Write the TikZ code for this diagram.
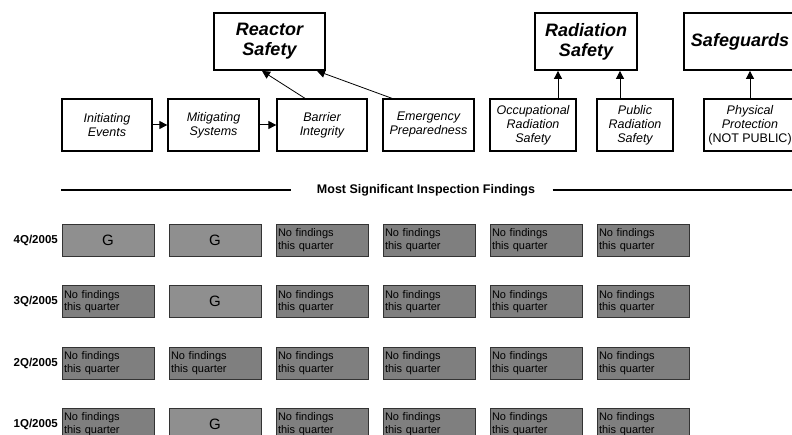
\documentclass[tikz,border=0pt]{standalone}
\usepackage{fontspec}
\setmainfont{Liberation Sans}
\usetikzlibrary{arrows.meta}
\definecolor{greenfind}{HTML}{8F8F8F}
\definecolor{nofind}{HTML}{7F7F7F}
\def\gmark{g}
\begin{document}
\begin{tikzpicture}[x=1pt, y=-1pt, >={Triangle[length=8pt,width=8pt]},
corner/.style = {rectangle, draw=black, line width=1.8pt, align=center, inner sep=0pt,
  minimum height=57pt, font=\fontsize{18}{20}\selectfont\bfseries\itshape},
block/.style = {rectangle, draw=black, line width=1.3pt, align=center, inner sep=0pt,
  minimum height=52pt, font=\fontsize{12.5}{14}\selectfont\itshape},
finding/.style = {rectangle, draw=black!80, line width=0.8pt, inner sep=2pt,
  minimum width=92pt, minimum height=32pt},
gbox/.style = {finding, fill=greenfind, font=\fontsize{15}{16}\selectfont},
nbox/.style = {finding, fill=nofind, align=left, text width=88pt, font=\fontsize{11}{12.5}\selectfont},
quarter/.style = {anchor=east, inner sep=0pt, font=\fontsize{11.5}{12}\selectfont\bfseries}]
\useasboundingbox (0,0) rectangle (792,435);
\node[corner, minimum width=111pt] at (269.5,41.5) (rs) {Reactor\\Safety};
\node[corner, minimum width=102pt] at (586,41.5) (rad) {Radiation\\Safety};
\node[corner, minimum width=112pt] at (740,41.5) (sg) {Safeguards};
\node[block, minimum width=90pt] at (107,125) (ie) {Initiating\\Events};
\node[block, minimum width=91pt] at (213.5,125) (ms) {Mitigating\\Systems};
\node[block, minimum width=90pt] at (322,125) (bi) {Barrier\\Integrity};
\node[block, minimum width=91pt] at (428.5,125) (ep) {Emergency\\Preparedness};
\node[block, minimum width=86pt] at (533,125) (ors) {Occupational\\Radiation\\Safety};
\node[block, minimum width=76pt] at (635,125) (prs) {Public\\Radiation\\Safety};
\node[block, minimum width=92pt, font=\fontsize{12.5}{14}\selectfont] at (750,125) (pp) {\itshape Physical\\\itshape Protection\\(NOT PUBLIC)};
\draw [->, line width=1] (ie) to (ms);
\draw [->, line width=1] (ms) to (bi);
\draw [->, line width=0.8] ([xshift=-17pt]bi.north) to ([xshift=-7.5pt]rs.south);
\draw [->, line width=0.8] ([xshift=-36.5pt]ep.north) to ([xshift=47.5pt]rs.south);
\draw [->, line width=0.8] ([xshift=25pt]ors.north) to ([xshift=-28pt]rad.south);
\draw [->, line width=0.8] ([xshift=-15pt]prs.north) to ([xshift=34pt]rad.south);
\draw [->, line width=0.8] (pp.north) to ([xshift=10pt]sg.south);
% findings heading
\node[font=\fontsize{12.5}{14}\selectfont\bfseries] at (426,190) (head) {Most Significant Inspection Findings};
\coordinate (hl) at (61,190);
\coordinate (hr) at (800,190);
\draw [line width=1.3] (hl) -- ([xshift=-22pt]head.west);
\draw [line width=1.3] ([xshift=14pt]head.east) -- (hr);
% one row per quarter, g = green finding, n = no findings
\foreach \q/\y/\row in {4Q/240/{g,g,n,n,n,n}, 3Q/301.5/{n,g,n,n,n,n},
                        2Q/363/{n,n,n,n,n,n}, 1Q/424/{n,g,n,n,n,n}} {
  \node[quarter] at (58,\y) (lab\q) {\q/2005};
  \foreach \f [count=\c] in \row {
    \pgfmathsetmacro{\xx}{1+107*\c}
    \ifx\f\gmark
      \node[gbox] at (\xx,\y) (f\q\c) {G};
    \else
      \node[nbox] at (\xx,\y) (f\q\c) {No findings\\this quarter};
    \fi
  }
}
\end{tikzpicture}
\end{document}
